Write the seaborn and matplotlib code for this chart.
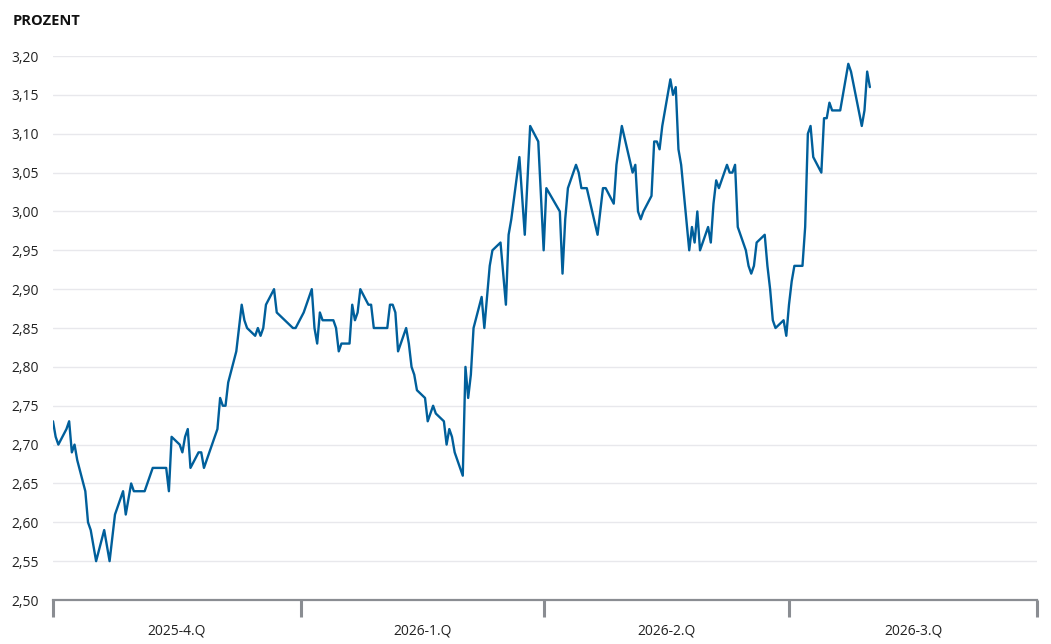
import pandas as pd
import seaborn as sns
import matplotlib.pyplot as plt
from matplotlib.ticker import FuncFormatter, MultipleLocator

# daily readings (trading days, straight lines across gaps)
dates = [
    "2025-10-01", "2025-10-02", "2025-10-03", "2025-10-06", "2025-10-07", "2025-10-08",
    "2025-10-09", "2025-10-10", "2025-10-13", "2025-10-14", "2025-10-15", "2025-10-17",
    "2025-10-20", "2025-10-22", "2025-10-24", "2025-10-27", "2025-10-28", "2025-10-30",
    "2025-10-31", "2025-11-04", "2025-11-07", "2025-11-12", "2025-11-13", "2025-11-14",
    "2025-11-17", "2025-11-18", "2025-11-19", "2025-11-20", "2025-11-21", "2025-11-24",
    "2025-11-25", "2025-11-26", "2025-12-01", "2025-12-02", "2025-12-03", "2025-12-04",
    "2025-12-05", "2025-12-08", "2025-12-09", "2025-12-10", "2025-12-11", "2025-12-12",
    "2025-12-15", "2025-12-16", "2025-12-17", "2025-12-18", "2025-12-19", "2025-12-22",
    "2025-12-23", "2025-12-29", "2025-12-30", "2026-01-02", "2026-01-05", "2026-01-06",
    "2026-01-07", "2026-01-08", "2026-01-09", "2026-01-13", "2026-01-14", "2026-01-15",
    "2026-01-16", "2026-01-19", "2026-01-20", "2026-01-21", "2026-01-22", "2026-01-23",
    "2026-01-26", "2026-01-27", "2026-01-28", "2026-02-02", "2026-02-03", "2026-02-04",
    "2026-02-05", "2026-02-06", "2026-02-09", "2026-02-10", "2026-02-11", "2026-02-12",
    "2026-02-13", "2026-02-16", "2026-02-17", "2026-02-19", "2026-02-20", "2026-02-23",
    "2026-02-24", "2026-02-25", "2026-02-26", "2026-02-27", "2026-03-02", "2026-03-03",
    "2026-03-04", "2026-03-05", "2026-03-06", "2026-03-09", "2026-03-10", "2026-03-12",
    "2026-03-13", "2026-03-16", "2026-03-18", "2026-03-19", "2026-03-20", "2026-03-23",
    "2026-03-25", "2026-03-27", "2026-03-30", "2026-04-01", "2026-04-02", "2026-04-07",
    "2026-04-08", "2026-04-09", "2026-04-10", "2026-04-13", "2026-04-14", "2026-04-15",
    "2026-04-17", "2026-04-21", "2026-04-23", "2026-04-24", "2026-04-27", "2026-04-28",
    "2026-04-30", "2026-05-04", "2026-05-05", "2026-05-06", "2026-05-07", "2026-05-08",
    "2026-05-11", "2026-05-12", "2026-05-13", "2026-05-14", "2026-05-15", "2026-05-18",
    "2026-05-19", "2026-05-20", "2026-05-21", "2026-05-22", "2026-05-25", "2026-05-26",
    "2026-05-27", "2026-05-28", "2026-05-29", "2026-06-01", "2026-06-02", "2026-06-03",
    "2026-06-04", "2026-06-05", "2026-06-08", "2026-06-09", "2026-06-10", "2026-06-11",
    "2026-06-12", "2026-06-15", "2026-06-16", "2026-06-17", "2026-06-18", "2026-06-19",
    "2026-06-22", "2026-06-23", "2026-06-24", "2026-06-25", "2026-06-26", "2026-06-29",
    "2026-06-30", "2026-07-01", "2026-07-02", "2026-07-03", "2026-07-06", "2026-07-07",
    "2026-07-08", "2026-07-09", "2026-07-10", "2026-07-13", "2026-07-14", "2026-07-15",
    "2026-07-16", "2026-07-17", "2026-07-20", "2026-07-23", "2026-07-24", "2026-07-28",
    "2026-07-29", "2026-07-30", "2026-07-31",
]
rates = [
    2.73, 2.71, 2.70, 2.72, 2.73, 2.69,
    2.70, 2.68, 2.64, 2.60, 2.59, 2.55,
    2.59, 2.55, 2.61, 2.64, 2.61, 2.65,
    2.64, 2.64, 2.67, 2.67, 2.64, 2.71,
    2.70, 2.69, 2.71, 2.72, 2.67, 2.69,
    2.69, 2.67, 2.72, 2.76, 2.75, 2.75,
    2.78, 2.82, 2.85, 2.88, 2.86, 2.85,
    2.84, 2.85, 2.84, 2.85, 2.88, 2.90,
    2.87, 2.85, 2.85, 2.87, 2.90, 2.85,
    2.83, 2.87, 2.86, 2.86, 2.85, 2.82,
    2.83, 2.83, 2.88, 2.86, 2.87, 2.90,
    2.88, 2.88, 2.85, 2.85, 2.88, 2.88,
    2.87, 2.82, 2.85, 2.83, 2.80, 2.79,
    2.77, 2.76, 2.73, 2.75, 2.74, 2.73,
    2.70, 2.72, 2.71, 2.69, 2.66, 2.80,
    2.76, 2.79, 2.85, 2.89, 2.85, 2.93,
    2.95, 2.96, 2.88, 2.97, 2.99, 3.07,
    2.97, 3.11, 3.09, 2.95, 3.03, 3.00,
    2.92, 2.99, 3.03, 3.06, 3.05, 3.03,
    3.03, 2.97, 3.03, 3.03, 3.01, 3.06,
    3.11, 3.05, 3.06, 3.00, 2.99, 3.00,
    3.02, 3.09, 3.09, 3.08, 3.11, 3.17,
    3.15, 3.16, 3.08, 3.06, 2.95, 2.98,
    2.96, 3.00, 2.95, 2.98, 2.96, 3.01,
    3.04, 3.03, 3.06, 3.05, 3.05, 3.06,
    2.98, 2.95, 2.93, 2.92, 2.93, 2.96,
    2.97, 2.93, 2.90, 2.86, 2.85, 2.86,
    2.84, 2.88, 2.91, 2.93, 2.93, 2.98,
    3.10, 3.11, 3.07, 3.05, 3.12, 3.12,
    3.14, 3.13, 3.13, 3.19, 3.18, 3.11,
    3.13, 3.18, 3.16,
]

quarter_starts = ["2025-10-01", "2026-01-01", "2026-04-01", "2026-07-01", "2026-10-01"]
quarter_labels = ["2025-4.Q", "2026-1.Q", "2026-2.Q", "2026-3.Q"]

df = pd.DataFrame({"datum": pd.to_datetime(dates), "prozent": rates})
q = pd.to_datetime(quarter_starts)
q_mid = q[:-1] + (q[1:] - q[:-1]) / 2

sns.set_style("white")
plt.rcParams["font.family"] = ["Open Sans", "DejaVu Sans"]

fig = plt.figure(figsize=(10.51, 6.44), dpi=100)
ax = fig.add_axes([0.0504, 0.0683, 0.9363, 0.8447])

sns.lineplot(data=df, x="datum", y="prozent", color="#005f9b", linewidth=1.7, ax=ax)

ax.set_xlim(q[0], q[-1])
ax.set_ylim(2.50, 3.20)
ax.yaxis.set_major_locator(MultipleLocator(0.05))
ax.yaxis.set_major_formatter(FuncFormatter(lambda v, p: f"{v:.2f}".replace(".", ",")))
ax.grid(axis="y", color="#e8e8ec", linewidth=1)
ax.set_axisbelow(True)

# quarter borders as ticks, labels centred in each quarter
ax.set_xticks(q)
ax.set_xticklabels([])
ax.set_xticks(q_mid, minor=True)
ax.set_xticklabels(quarter_labels, minor=True)
ax.tick_params(axis="x", which="major", bottom=True, length=12, width=2.2,
               color="#8a8d92", direction="out")
ax.tick_params(axis="x", which="minor", bottom=True, length=0, pad=17,
               labelsize=10, labelcolor="#222222")
ax.tick_params(axis="y", left=False, length=0, pad=10, labelsize=10, labelcolor="#222222")

for s in ["top", "right", "left"]:
    ax.spines[s].set_visible(False)
ax.spines["bottom"].set_color("#8a8d92")
ax.spines["bottom"].set_linewidth(1.6)

ax.set_xlabel("")
ax.set_ylabel("")
fig.text(0.012, 0.967, "PROZENT", fontsize=10.5, fontweight="bold", color="#111111", va="center")

plt.savefig("out.png", dpi=100)
plt.close()
